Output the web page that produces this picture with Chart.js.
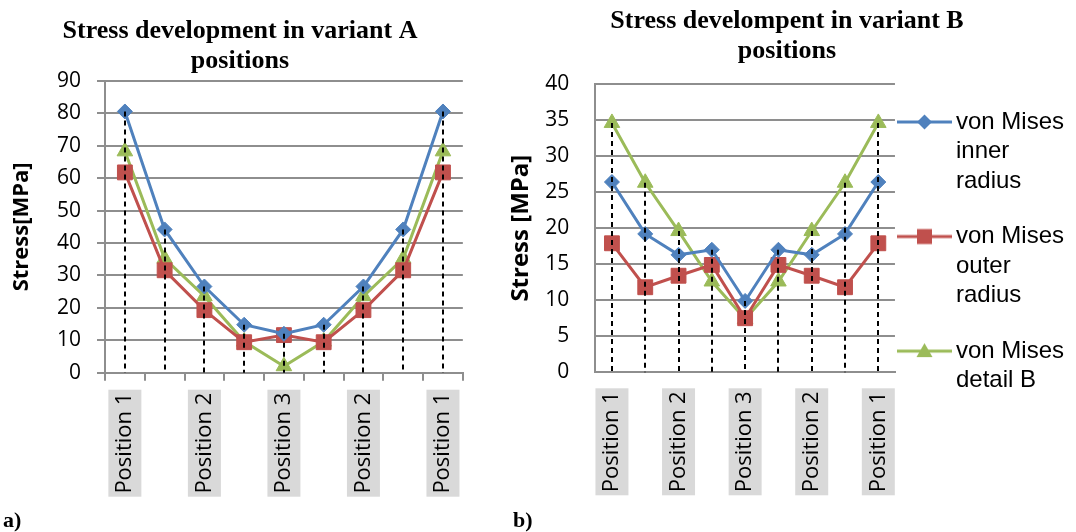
<!DOCTYPE html>
<html><head><meta charset="utf-8">
<script src="https://cdn.jsdelivr.net/npm/chart.js@4.4.1/dist/chart.umd.min.js"></script>
<style>
html,body{margin:0;padding:0;background:#fff;width:1076px;height:532px;overflow:hidden;position:relative;}
#ca{position:absolute;left:0;top:0;}
#cb{position:absolute;left:500px;top:0;}
.tag{position:absolute;font:bold 22px "Liberation Serif";line-height:22px;top:509px;color:#000;}
</style></head><body>
<canvas id="ca" width="482" height="532"></canvas>
<canvas id="cb" width="574" height="532"></canvas>
<div class="tag" style="left:3px">a)</div>
<div class="tag" style="left:513px">b)</div>
<script>
// ---- data ----
const categories = ['Position 1', '', 'Position 2', '', 'Position 3', '', 'Position 2', '', 'Position 1'];
const seriesNames = [['von Mises', 'inner', 'radius'], ['von Mises', 'outer', 'radius'], ['von Mises', 'detail B']];
const titleA = ['Stress development in variant A', 'positions'];
const titleB = ['Stress develompent in variant B', 'positions'];
const yTitleA = 'Stress[MPa]';
const yTitleB = 'Stress [MPa]';
const aInner  = [80.6, 44.2, 26.6, 14.8, 12.0, 14.8, 26.6, 44.2, 80.6];
const aOuter  = [61.8, 31.6, 19.3, 9.4, 11.6, 9.4, 19.3, 31.6, 61.8];
const aDetail = [68.3, 35.2, 23.6, 9.6, 2.0, 9.6, 23.6, 35.2, 68.3];
const bInner  = [26.4, 19.2, 16.3, 17.0, 9.9, 17.0, 16.3, 19.2, 26.4];
const bOuter  = [17.9, 11.8, 13.4, 14.9, 7.5, 14.9, 13.4, 11.8, 17.9];
const bDetail = [34.6, 26.3, 19.6, 12.6, 7.4, 12.6, 19.6, 26.3, 34.6];
const yAxisA = {max: 90, step: 10};
const yAxisB = {max: 40, step: 5};

// ---- styles ----
const colors = ['#4F81BD', '#C0504D', '#9BBB59'];
const pStyles = ['rectRot', 'rect', 'triangle'];
const pRadius = [7.5, 10.5, 9];
const gridColor = '#8e8e8e';

function makeDatasets(vals) {
  return vals.map((v, i) => ({
    label: seriesNames[i].join(' '),
    data: v,
    borderColor: colors[i],
    backgroundColor: colors[i],
    borderWidth: 3,
    pointStyle: pStyles[i],
    pointRadius: pRadius[i],
    pointBorderWidth: 1,
    pointBackgroundColor: colors[i],
    pointBorderColor: colors[i],
    tension: 0
  }));
}

function legendIcon(i) {
  const c = document.createElement('canvas');
  c.width = 71; c.height = 22;
  const g = c.getContext('2d');
  g.strokeStyle = colors[i]; g.fillStyle = colors[i]; g.lineWidth = 3;
  g.beginPath(); g.moveTo(0, 11); g.lineTo(55, 11); g.stroke();
  const cx = 27.5, cy = 11;
  g.beginPath();
  if (i === 0) { g.moveTo(cx, cy - 7.5); g.lineTo(cx + 7.5, cy); g.lineTo(cx, cy + 7.5); g.lineTo(cx - 7.5, cy); }
  else if (i === 1) { g.rect(cx - 7.5, cy - 7.5, 15, 15); }
  else { g.moveTo(cx, cy - 8); g.lineTo(cx + 8, cy + 6); g.lineTo(cx - 8, cy + 6); }
  g.closePath(); g.fill();
  return c;
}
const icons = [0, 1, 2].map(legendIcon);

const boxPlugin = {
  id: 'labelBoxes',
  beforeDraw(chart) {
    const sx = chart.scales.x, ctx = chart.ctx, o = sx.options;
    const tl = o.grid.drawTicks ? o.grid.tickLength : 0;
    const top = sx.top + tl + o.ticks.padding - 3;
    ctx.save(); ctx.fillStyle = '#d9d9d9';
    categories.forEach((c, i) => {
      if (!c) return;
      const cx = sx.getPixelForValue(i);
      ctx.fillRect(cx - 16.5, top, 33, 107);
    });
    ctx.restore();
  }
};
const dropPlugin = {
  id: 'dropLines',
  afterDatasetsDraw(chart) {
    const sx = chart.scales.x, sy = chart.scales.y, ctx = chart.ctx;
    ctx.save(); ctx.strokeStyle = '#000'; ctx.lineWidth = 2; ctx.setLineDash([5, 4]);
    categories.forEach((c, i) => {
      const m = Math.max(...chart.data.datasets.map(d => d.data[i]));
      const x = Math.round(sx.getPixelForValue(i));
      ctx.beginPath(); ctx.moveTo(x, sy.getPixelForValue(m)); ctx.lineTo(x, sy.getPixelForValue(0)); ctx.stroke();
    });
    ctx.restore();
  }
};

function makeConfig(p) {
  return {
    type: 'line',
    data: {labels: categories, datasets: makeDatasets(p.vals)},
    plugins: [boxPlugin, dropPlugin],
    options: {
      responsive: false, animation: false, devicePixelRatio: 1,
      events: [],
      layout: {padding: {left: 0, right: p.padRight, top: 0, bottom: 0}},
      plugins: {
        tooltip: {enabled: false},
        title: {display: true, text: p.title, color: '#000',
          font: {family: 'Liberation Serif', weight: 'bold', size: 26, lineHeight: p.titleLH},
          padding: p.titlePad},
        legend: p.legend
      },
      scales: {
        x: {
          offset: true,
          afterFit: s => { s.height = 532 - p.bottom; },
          grid: {display: p.xTicks, drawOnChartArea: false, drawTicks: p.xTicks, tickLength: 8, offset: true, color: gridColor, lineWidth: 2},
          border: {display: true, color: gridColor, width: 2},
          ticks: {autoSkip: false, minRotation: 90, maxRotation: 90, padding: p.xPad, color: '#000',
            font: {family: 'Open Sans', size: 22}}
        },
        y: {
          min: 0, max: p.axis.max,
          afterFit: s => { s.width = p.axisX; },
          grid: {color: gridColor, lineWidth: 2, drawTicks: p.yTicks, tickLength: 8},
          border: {display: true, color: gridColor, width: 2},
          ticks: {stepSize: p.axis.step, padding: p.yPad, color: '#000', font: {family: 'Open Sans', size: 21}},
          title: {display: true, text: p.yTitle, color: '#000', padding: {top: p.yTitlePad, bottom: 0},
            font: {family: 'Open Sans', weight: 'bold', size: p.yTitleSize, lineHeight: 1.2}}
        }
      }
    }
  };
}

new Chart(document.getElementById('ca'), makeConfig({
  vals: [aInner, aOuter, aDetail], title: titleA, titleLH: 1.154,
  titlePad: {top: 16, bottom: 5}, padRight: 2, bottom: 372.7,
  xTicks: true, xPad: 12, yTicks: true, yPad: 16, axisX: 105, axis: yAxisA,
  yTitle: yTitleA, yTitlePad: 9, yTitleSize: 22,
  legend: {display: false}
}));

new Chart(document.getElementById('cb'), makeConfig({
  vals: [bInner, bOuter, bDetail], title: titleB, titleLH: 1.127,
  titlePad: {top: 7, bottom: 18.4}, padRight: 0, bottom: 372.3,
  xTicks: false, xPad: 19, yTicks: false, yPad: 26, axisX: 95.3, axis: yAxisB,
  yTitle: yTitleB, yTitlePad: 7, yTitleSize: 24,
  legend: {
    display: true, position: 'right', align: 'start', fullSize: true, maxWidth: 220,
    title: {display: true, text: ' ', padding: 0, font: {size: 12, lineHeight: 7}},
    labels: {
      usePointStyle: true, pointStyleWidth: 23, padding: 26, color: '#000',
      font: {family: 'Liberation Sans', size: 24, lineHeight: 1.23},
      generateLabels: chart => chart.data.datasets.map((ds, i) => ({
        text: seriesNames[i], fillStyle: colors[i], strokeStyle: colors[i], lineWidth: 0,
        pointStyle: icons[i], hidden: false, datasetIndex: i, fontColor: '#000'
      }))
    }
  }
}));
</script>
</body></html>
